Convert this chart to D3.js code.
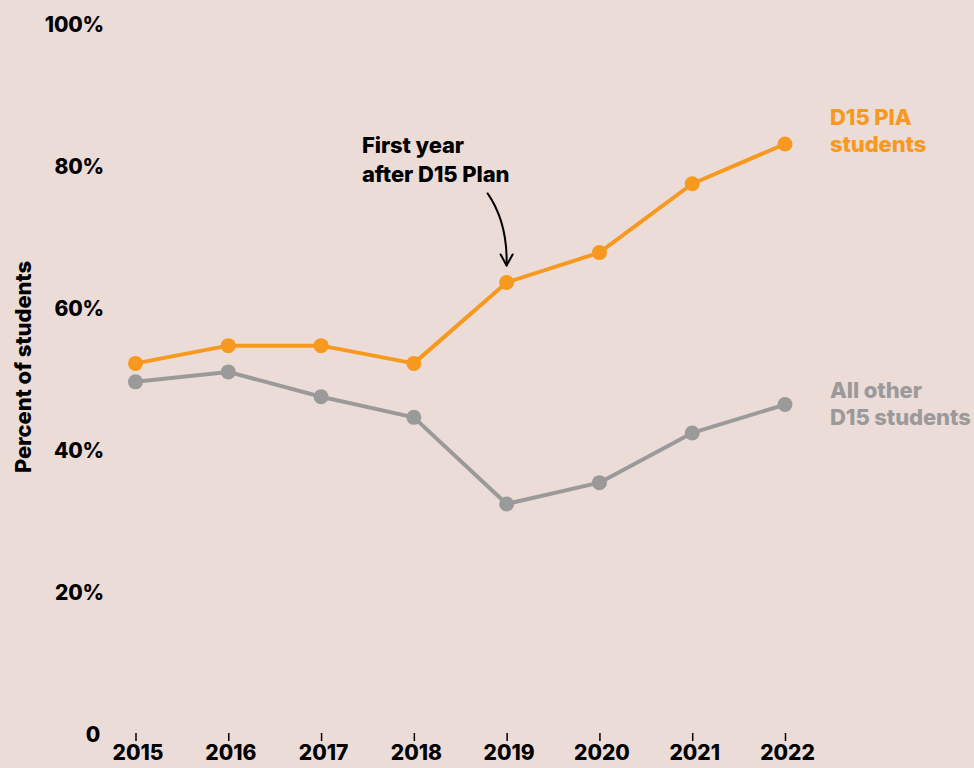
<!DOCTYPE html>
<html>
<head>
<meta charset="utf-8">
<script src="https://cdn.jsdelivr.net/npm/d3@7/dist/d3.min.js"></script>
<style>
  html, body { margin: 0; padding: 0; background: #ecdcd8; }
  svg { display: block; }
  text { font-family: Inter, "Noto Sans", sans-serif; font-weight: 800; }
</style>
</head>
<body>
<svg id="chart" width="974" height="768"></svg>
<script>
// Years on the x axis
const years = [2015, 2016, 2017, 2018, 2019, 2020, 2021, 2022];
// Share of students (%) for each group
const piaValues = [52.2, 54.7, 54.7, 52.2, 63.6, 67.8, 77.5, 83.1];
const otherValues = [49.6, 51.0, 47.5, 44.6, 32.4, 35.4, 42.4, 46.4];
// Y tick values and their labels
const yTicks = [0, 20, 40, 60, 80, 100];
const yTickLabels = ["0", "20%", "40%", "60%", "80%", "100%"];
// Series names drawn at the line ends
const piaLabel = ["D15 PIA", "students"];
const otherLabel = ["All other", "D15 students"];
const noteLines = ["First year", "after D15 Plan"];
const noteYear = 2019;

const orange = "#f7991f";
const gray = "#9b9a9a";
const FONT = "Inter, sans-serif";

const svg = d3.select("#chart");

const x = d3.scalePoint().domain(years).range([135.5, 785]);
const y = d3.scaleLinear().domain([0, 100]).range([734, 24]);

// Y axis labels (no axis line)
const yAxis = svg.append("g").attr("transform", "translate(104,0)")
  .call(d3.axisLeft(y).tickValues(yTicks).tickSize(0).tickPadding(0)
    .tickFormat((d, i) => yTickLabels[i]));
yAxis.select(".domain").remove();
yAxis.selectAll("text")
  .attr("fill", "#000").attr("font-size", 21).attr("letter-spacing", "-0.2")
  .attr("dy", "0.36em")
  .attr("dx", d => d === 0 ? -4 : 0)
  .attr("font-family", FONT).attr("font-weight", 800);

// X axis with short ticks and year labels
const xAxis = svg.append("g").attr("transform", "translate(0,733)")
  .call(d3.axisBottom(x).tickSize(8).tickPadding(6));
xAxis.select(".domain").remove();
xAxis.selectAll(".tick line").attr("stroke", "#000").attr("stroke-width", 1.5);
xAxis.selectAll("text")
  .attr("fill", "#000").attr("font-size", 21).attr("letter-spacing", "0")
  .attr("dx", 2).attr("dy", "0.6em")
  .attr("font-family", FONT).attr("font-weight", 800);

// Y axis title
svg.append("text")
  .attr("transform", "translate(31,367) rotate(-90)")
  .attr("text-anchor", "middle")
  .attr("font-size", 22).attr("letter-spacing", "-0.1")
  .attr("fill", "#000")
  .text("Percent of students");

const line = d3.line().x((d, i) => x(years[i])).y(d => y(d));

function drawSeries(values, color) {
  svg.append("path").datum(values)
    .attr("d", line).attr("fill", "none")
    .attr("stroke", color).attr("stroke-width", 4)
    .attr("stroke-linejoin", "round");
  svg.append("g").selectAll("circle").data(values).join("circle")
    .attr("cx", (d, i) => x(years[i])).attr("cy", d => y(d))
    .attr("r", 7.5).attr("fill", color);
}
drawSeries(otherValues, gray);
drawSeries(piaValues, orange);

// Series labels
function drawLabel(lines, color, yPos) {
  const t = svg.append("text").attr("x", 830).attr("y", yPos)
    .attr("fill", color).attr("font-size", 22).attr("letter-spacing", "-0.1");
  lines.forEach((s, i) => t.append("tspan").attr("x", 830).attr("dy", i ? 27 : 0).text(s));
}
drawLabel(piaLabel, orange, 125);
drawLabel(otherLabel, gray, 398);

// Annotation for the first year after the plan
const nx = x(noteYear);
const ny = y(piaValues[years.indexOf(noteYear)]);
const note = svg.append("text").attr("x", 362).attr("y", 153)
  .attr("fill", "#000").attr("font-size", 22).attr("letter-spacing", "-0.1");
noteLines.forEach((s, i) => note.append("tspan").attr("x", 362).attr("dy", i ? 29 : 0).text(s));

const tipY = ny - 17;
svg.append("path")
  .attr("d", `M${nx - 19},${ny - 89} Q${nx + 1},${ny - 60} ${nx},${tipY}`)
  .attr("fill", "none").attr("stroke", "#000").attr("stroke-width", 2)
  .attr("stroke-linecap", "round");
svg.append("path")
  .attr("d", `M${nx - 6},${tipY - 11} L${nx},${tipY} L${nx + 6},${tipY - 11}`)
  .attr("fill", "none").attr("stroke", "#000").attr("stroke-width", 2)
  .attr("stroke-linecap", "round").attr("stroke-linejoin", "round");
</script>
</body>
</html>
